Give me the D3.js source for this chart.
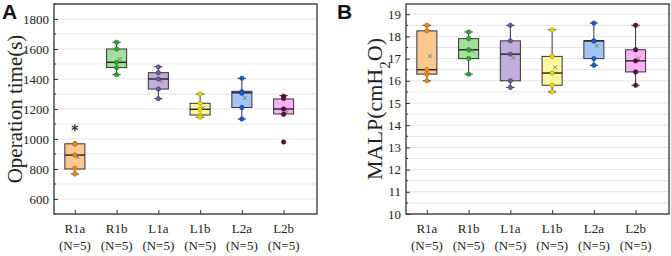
<!DOCTYPE html>
<html><head><meta charset="utf-8">
<script src="https://cdn.jsdelivr.net/npm/d3@7"></script>
<style>body{margin:0;background:#fff}svg{display:block}</style>
</head><body>
<svg id="chart" width="671" height="256"></svg>
<script>
const categories = ["R1a","R1b","L1a","L1b","L2a","L2b"];
const nLabels = ["(N=5)","(N=5)","(N=5)","(N=5)","(N=5)","(N=5)"];
const boxFill = ["#fdc790","#a2df9a","#c3aedb","#fbf89e","#a4c6f4","#f9b0f5"];
const pointFill = ["#f28c1a","#2faa2f","#6b5a9e","#e8df00","#1a5fd0","#5b0f3f"];

// Panel A: Operation time(s)
const opQ1 = [800,1476,1333,1160,1210,1167];
const opMedian = [893,1511,1400,1198,1308,1200];
const opQ3 = [968,1600,1442,1238,1318,1267];
const opWhiskerLow = [767,1429,1269,1145,1133,1167];
const opWhiskerHigh = [968,1645,1482,1300,1405,1289];
const opPoints = [
  [970,966,893,805,767],
  [1645,1600,1511,1475,1429],
  [1480,1442,1400,1333,1269],
  [1300,1238,1198,1160,1145],
  [1405,1315,1305,1210,1133],
  [1285,1270,1200,1165,980]
];
const opStar = [1075,null,null,null,null,null];
const opTicks = [600,800,1000,1200,1400,1600,1800];

// Panel B: MALP(cmH2O)
const malpQ1 = [16.3,17.0,16.0,15.8,17.0,16.4];
const malpMedian = [16.5,17.4,17.2,16.35,17.8,16.9];
const malpQ3 = [18.25,17.9,17.8,17.1,17.8,17.4];
const malpWhiskerLow = [16.0,16.3,15.7,15.5,16.7,15.8];
const malpWhiskerHigh = [18.5,18.2,18.5,18.3,18.6,18.5];
const malpPoints = [
  [18.5,18.25,16.5,16.3,16.0],
  [18.2,17.9,17.4,17.0,16.3],
  [18.5,17.8,17.2,16.0,15.7],
  [18.3,17.1,16.35,15.8,15.5],
  [18.6,17.8,17.8,17.0,16.7],
  [18.5,17.4,16.9,16.4,15.8]
];
const malpTicks = [10,11,12,13,14,15,16,17,18,19];

const svg = d3.select("#chart");
const serif = "'Liberation Serif','Times New Roman',serif";

function darker(c){ return d3.color(c).darker(1.2).formatHex(); }

function panel(cfg){
  const {left, right, top, bottom, domain, ticks, minorStep, q1, med, q3, wl, wh, pts, star, letter, letterX, title, titleX} = cfg;
  const g = svg.append("g");
  const x = d3.scaleLinear().domain([0.5, 6.8]).range([left, right]);
  const y = d3.scaleLinear().domain(domain).range([bottom, top]);
  // gridlines
  const grid = d3.range(Math.ceil(domain[0]/minorStep)*minorStep, domain[1]+1e-9, minorStep);
  g.selectAll(".grid").data(grid).join("line")
    .attr("x1", left).attr("x2", right)
    .attr("y1", d=>y(d)).attr("y2", d=>y(d))
    .attr("stroke", "#e4e4e4").attr("stroke-width", 1);
  // y axis
  const ya = g.append("g").attr("transform", `translate(${left},0)`)
    .call(d3.axisLeft(y).tickValues(ticks).tickSize(-4).tickPadding(5).tickFormat(d3.format("d")));
  ya.select(".domain").remove();
  ya.selectAll("text").attr("font-family", serif).attr("font-size", 13).attr("fill", "#222");
  ya.selectAll("line").attr("stroke", "#333");
  // minor y ticks
  const minor = grid.filter(v => !ticks.some(t => Math.abs(t-v) < 1e-9));
  g.selectAll(".minor").data(minor).join("line")
    .attr("x1", left).attr("x2", left+2)
    .attr("y1", d=>y(d)).attr("y2", d=>y(d)).attr("stroke", "#333");
  // x axis
  const xa = g.append("g").attr("transform", `translate(0,${bottom})`)
    .call(d3.axisBottom(x).tickValues(d3.range(1,7)).tickSize(-4).tickFormat(""));
  xa.select(".domain").remove();
  xa.selectAll("line").attr("stroke", "#333");
  g.selectAll(".xl1").data(categories).join("text")
    .attr("x", (d,i)=>x(i+1)).attr("y", bottom+19)
    .attr("text-anchor", "middle").attr("font-family", serif).attr("font-size", 13).attr("fill", "#222")
    .text(d=>d);
  g.selectAll(".xl2").data(nLabels).join("text")
    .attr("x", (d,i)=>x(i+1)).attr("y", bottom+36)
    .attr("text-anchor", "middle").attr("font-family", serif).attr("font-size", 13).attr("fill", "#222")
    .text(d=>d);
  // boxes
  const bw = (x(1.24) - x(1));
  const cw = (x(1.1) - x(1));
  categories.forEach((c,i)=>{
    const cx = x(i+1);
    const bg = g.append("g");
    bg.append("line").attr("x1", cx).attr("x2", cx).attr("y1", y(q3[i])).attr("y2", y(wh[i])).attr("stroke", "#333");
    bg.append("line").attr("x1", cx).attr("x2", cx).attr("y1", y(q1[i])).attr("y2", y(wl[i])).attr("stroke", "#333");
    if (wh[i] > q3[i]) bg.append("line").attr("x1", cx-cw).attr("x2", cx+cw).attr("y1", y(wh[i])).attr("y2", y(wh[i])).attr("stroke", "#333");
    if (wl[i] < q1[i]) bg.append("line").attr("x1", cx-cw).attr("x2", cx+cw).attr("y1", y(wl[i])).attr("y2", y(wl[i])).attr("stroke", "#333");
    bg.append("rect").attr("x", cx-bw).attr("width", 2*bw)
      .attr("y", y(q3[i])).attr("height", y(q1[i]) - y(q3[i]))
      .attr("fill", boxFill[i]).attr("stroke", "#333").attr("stroke-width", 1);
    bg.append("line").attr("x1", cx-bw).attr("x2", cx+bw).attr("y1", y(med[i])).attr("y2", y(med[i]))
      .attr("stroke", "#222").attr("stroke-width", 1.4);
    // mean marker
    const m = d3.mean(pts[i]);
    const mx = cx+3, my = y(m), s = 2;
    bg.append("path").attr("d", `M${mx-s},${my-s}L${mx+s},${my+s}M${mx-s},${my+s}L${mx+s},${my-s}`)
      .attr("stroke", "#777").attr("stroke-width", 0.9);
    // points
    bg.selectAll("circle").data(pts[i]).join("circle")
      .attr("cx", cx).attr("cy", d=>y(d)).attr("r", 2.2)
      .attr("fill", pointFill[i]).attr("stroke", darker(pointFill[i])).attr("stroke-width", 0.6);
    if (star && star[i] != null) {
      bg.append("path").attr("transform", `translate(${cx},${y(star[i])})`)
        .attr("d", d3.symbol(d3.symbolAsterisk, 36)())
        .attr("fill", "none").attr("stroke", "#333").attr("stroke-width", 1.3);
    }
  });
  // frame
  g.append("rect").attr("x", left).attr("y", top).attr("width", right-left).attr("height", bottom-top)
    .attr("fill", "none").attr("stroke", "#333").attr("stroke-width", 1.3);
  // panel letter
  g.append("text").attr("x", letterX).attr("y", 19).attr("font-family", "'Liberation Sans',Arial,sans-serif")
    .attr("font-weight", "bold").attr("font-size", 21).attr("fill", "#111").text(letter);
  // title
  const t = g.append("text").attr("transform", `translate(${titleX},${(top+bottom)/2}) rotate(-90)`)
    .attr("text-anchor", "middle").attr("font-family", serif).attr("fill", "#222");
  title(t);
}

panel({left:54, right:317, top:4, bottom:214, domain:[500,1900], ticks:opTicks, minorStep:100,
  q1:opQ1, med:opMedian, q3:opQ3, wl:opWhiskerLow, wh:opWhiskerHigh, pts:opPoints, star:opStar,
  letter:"A", letterX:2, titleX:22,
  title: t => t.attr("font-size", 21).text("Operation time(s)")});

panel({left:406, right:669, top:4, bottom:214, domain:[10,19.46], ticks:malpTicks, minorStep:0.5,
  q1:malpQ1, med:malpMedian, q3:malpQ3, wl:malpWhiskerLow, wh:malpWhiskerHigh, pts:malpPoints, star:null,
  letter:"B", letterX:337, titleX:382,
  title: t => { t.attr("font-size", 22);
    t.append("tspan").text("MALP(cmH");
    t.append("tspan").attr("baseline-shift","sub").attr("font-size", 15).text("2");
    t.append("tspan").text("O)"); }});
</script>
</body></html>
